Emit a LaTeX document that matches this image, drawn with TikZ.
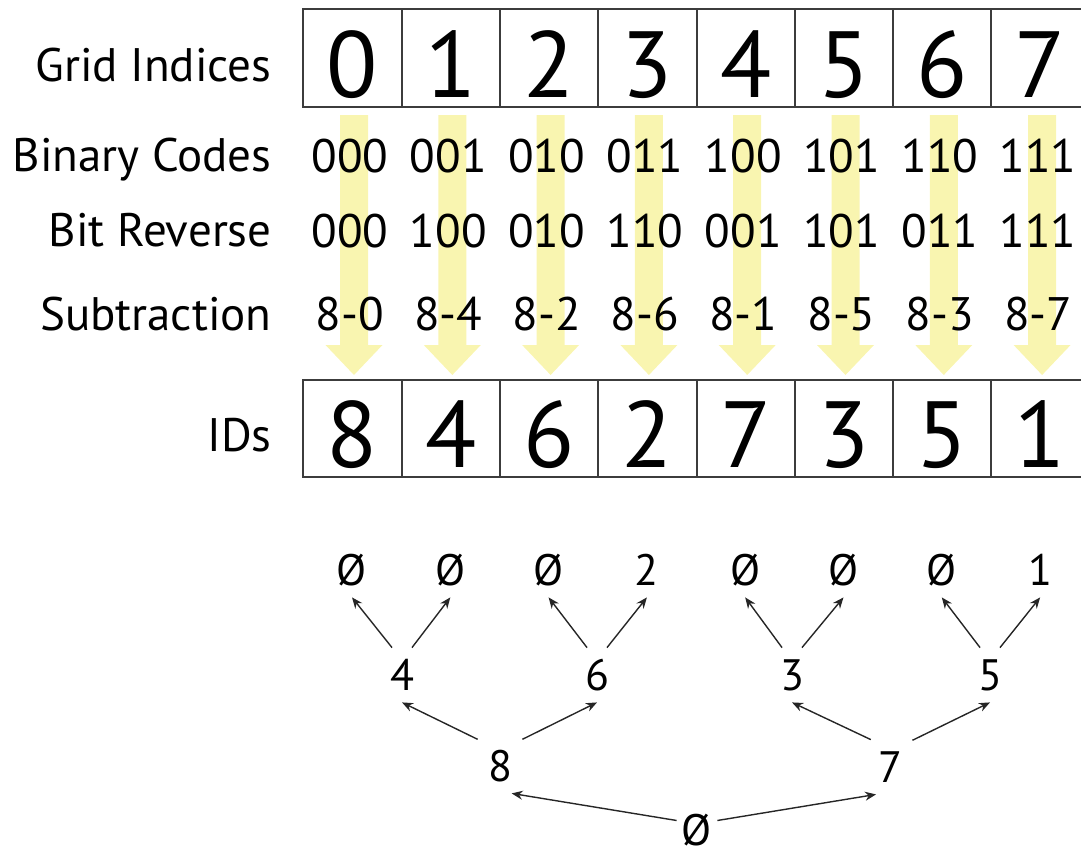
\documentclass[tikz,border=0pt]{standalone}
\usepackage{fontspec}
\setmainfont{PT Sans}
\usetikzlibrary{arrows.meta}

\definecolor{arrowyellow}{RGB}{249,245,176}
\definecolor{gridgray}{RGB}{60,60,60}

\tikzset{
    cellbox/.style={draw=gridgray, line width=1pt},
    bigdigit/.style={anchor=base, font=\fontsize{47}{47}\selectfont},
    rowtext/.style={anchor=base, inner sep=0pt, font=\fontsize{23.5}{24}\selectfont},
    rowlabel/.style={anchor=base east, inner sep=0pt, font=\fontsize{23.5}{24}\selectfont},
    treenode/.style={inner sep=0pt, minimum width=22pt, minimum height=27pt,
        text height=15pt, text depth=0pt, font=\fontsize{22}{22}\selectfont},
    treearrow/.style={-{Stealth[length=5.5pt,width=4.5pt]}, line width=0.7pt, draw=black!85},
    bigarrow/.style={fill=arrowyellow, draw=none}
}

\begin{document}
\begin{tikzpicture}[x=0.5pt, y=-0.5pt]
    \clip (0,0) rectangle (1081,857);

    % Yellow arrows
    \foreach \i in {0,...,7} {
        \pgfmathsetmacro\ax{354+98.3*\i}
        \fill[bigarrow] (\ax-14,115) -- (\ax+14,115) -- (\ax+14,345) -- (\ax+28.5,345)
            -- (\ax,375) -- (\ax-28.5,345) -- (\ax-14,345) -- cycle;
    }

    % Grid rows
    \foreach \i in {0,...,7} {
        \draw[cellbox] (303.3+98.3*\i,9.3) rectangle ++(98.3,97.4);
        \draw[cellbox] (303.3+98.3*\i,380) rectangle ++(98.3,97.4);
    }
    \foreach \d [count=\i from 0] in {0,1,2,3,4,5,6,7}
        \node[bigdigit] (g\i) at (352.5+98.3*\i,97) {\d};
    \foreach \d [count=\i from 0] in {8,4,6,2,7,3,5,1}
        \node[bigdigit] (id\i) at (352.5+98.3*\i,467) {\d};

    % Codes
    \foreach \b/\r/\s [count=\i from 0] in {000/000/8-0, 001/100/8-4, 010/010/8-2, 011/110/8-6,
                                              100/001/8-1, 101/101/8-5, 110/011/8-3, 111/111/8-7} {
        \node[rowtext] (bin\i) at (350+98.3*\i,172) {\b};
        \node[rowtext] (rev\i) at (350+98.3*\i,247) {\r};
        \node[rowtext] (sub\i) at (350+98.3*\i,330) {\s};
    }

    % Labels
    \node[rowlabel] (lgrid) at (272,81) {Grid Indices};
    \node[rowlabel] (lbin) at (272,171.5) {Binary Codes};
    \node[rowlabel] (lrev) at (272,246.5) {Bit Reverse};
    \node[rowlabel] (lsub) at (272,330) {Subtraction};
    \node[rowlabel] (lids) at (272,451) {IDs};

    % Tree
    \foreach \t [count=\i from 0] in {Ø,Ø,Ø,2,Ø,Ø,Ø,1}
        \node[treenode] (l\i) at (352+98.3*\i,570) {\t};
    \node[treenode] (n4) at (402,675) {4};
    \node[treenode] (n6) at (597,675) {6};
    \node[treenode] (n3) at (792,675) {3};
    \node[treenode] (n5) at (990,675) {5};
    \node[treenode] (n8) at (500,766) {8};
    \node[treenode] (n7) at (890,767) {7};
    \node[treenode, minimum width=20pt, minimum height=14pt] (root) at (697,830) {Ø};

    \draw[treearrow] (n4.110) -- (l0.south);
    \draw[treearrow] (n4.70) -- (l1.south);
    \draw[treearrow] (n6.110) -- (l2.south);
    \draw[treearrow] (n6.70) -- (l3.south);
    \draw[treearrow] (n3.110) -- (l4.south);
    \draw[treearrow] (n3.70) -- (l5.south);
    \draw[treearrow] (n5.110) -- (l6.south);
    \draw[treearrow] (n5.70) -- (l7.south);
    \draw[treearrow] (n8.130) -- (n4.south);
    \draw[treearrow] (n8.50) -- (n6.south);
    \draw[treearrow] (n7.125) -- (n3.south);
    \draw[treearrow] (n7.50) -- (n5.south);
    \draw[treearrow] (root.155) -- (n8.293);
    \draw[treearrow] (root.25) -- (n7.243);
\end{tikzpicture}
\end{document}
